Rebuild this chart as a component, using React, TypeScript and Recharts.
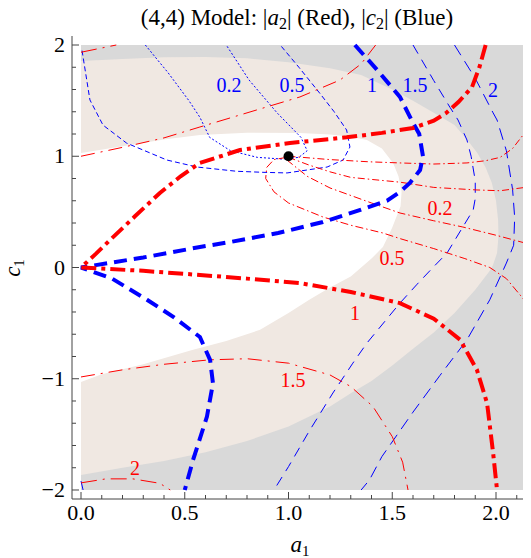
import React from 'react';
import { ComposedChart, XAxis, YAxis, Scatter, ReferenceDot } from 'recharts';

const RED = '#ff0000';
const BLUE = '#0000ff';
const FRAME = '#444444';
const FONT = '"Liberation Serif", "Times New Roman", serif';

const xTicks = [0, 0.1, 0.2, 0.3, 0.4, 0.5, 0.6, 0.7, 0.8, 0.9, 1, 1.1, 1.2, 1.3, 1.4, 1.5, 1.6, 1.7, 1.8, 1.9, 2, 2.1];
const yTicks = [-2, -1.8, -1.6, -1.4, -1.2, -1, -0.8, -0.6, -0.4, -0.2, 0, 0.2, 0.4, 0.6, 0.8, 1, 1.2, 1.4, 1.6, 1.8, 2];

// shaded regions (outlines in a1, c1)
const grayRegion = [[0, -2], [2.14, -2], [2.14, 2], [0, 2]];
const beigeRegion = [
  [0, 1.856], [0.2, 1.875], [0.4, 1.89], [0.6, 1.893], [0.8, 1.88], [1.0, 1.845], [1.2, 1.79], [1.35, 1.73],
  [1.5, 1.6], [1.6, 1.5], [1.7, 1.39], [1.8, 1.28], [1.86, 1.15], [1.91, 1.03], [1.95, 0.9], [1.98, 0.76],
  [2.0, 0.6], [2.01, 0.43], [2.012, 0.28], [2.005, 0.13], [1.985, 0.02], [1.97, -0.03], [1.9, -0.2],
  [1.8, -0.41], [1.7, -0.585], [1.6, -0.73], [1.5, -0.88], [1.4, -1.02], [1.3, -1.13], [1.2, -1.25],
  [1.0, -1.43], [0.8, -1.56], [0.6, -1.66], [0.4, -1.74], [0.2, -1.8], [0, -1.865],
];
const whiteRegion = [
  [0, 1.03], [0.2, 1.09], [0.4, 1.15], [0.573, 1.19], [0.8, 1.212], [1.055, 1.21], [1.2, 1.195], [1.3, 1.175],
  [1.378, 1.146], [1.45, 1.07], [1.504, 0.94], [1.53, 0.82], [1.545, 0.68], [1.54, 0.55], [1.5, 0.36],
  [1.455, 0.184], [1.4, 0.08], [1.3, -0.08], [1.2, -0.18], [1.1, -0.29], [1.0, -0.41], [0.863, -0.56],
  [0.7, -0.66], [0.54, -0.74], [0.3, -0.87], [0.1, -0.96], [0, -1.03],
];

// |a2| contours (red)
const redLevel1 = [
  [1.95, 2.0], [1.92, 1.8], [1.884, 1.62], [1.82, 1.49], [1.76, 1.389], [1.7, 1.32], [1.6, 1.254], [1.45, 1.21],
  [1.28, 1.17], [1.007, 1.119], [0.766, 1.056], [0.573, 0.94], [0.48, 0.82], [0.38, 0.67], [0.26, 0.46],
  [0.14, 0.247], [0.07, 0.12], [0, 0], [0.3, -0.03], [0.573, -0.067], [0.8, -0.1], [1.055, -0.14], [1.3, -0.22],
  [1.537, -0.32], [1.7, -0.46], [1.827, -0.65], [1.908, -0.92], [1.957, -1.22], [1.986, -1.667], [2.005, -2.0],
];
const redLevel15Upper = [[0, 1.0], [0.2, 1.08], [0.4, 1.165], [0.573, 1.263], [0.8, 1.39], [1.055, 1.533], [1.248, 1.685], [1.35, 1.83], [1.42, 2.0]];
const redLevel15Lower = [
  [0, -0.984], [0.2, -0.92], [0.4, -0.87], [0.62, -0.83], [0.8, -0.82], [1.0, -0.86], [1.2, -0.966], [1.3, -1.07],
  [1.407, -1.25], [1.5, -1.52], [1.55, -1.75], [1.576, -2.0],
];
const redLevel2Upper = [[0, 1.935], [0.17, 2.0]];
const redLevel2Lower = [[0, -1.936], [0.12, -1.9], [0.25, -1.9], [0.38, -1.94], [0.43, -2.0]];
const redNearA = [[1.0, 1.0], [1.2, 0.97], [1.39, 0.95], [1.537, 0.94], [1.7, 0.93], [1.86, 0.94], [1.95, 0.96], [2.02, 0.99], [2.08, 1.07], [2.13, 1.19]];
const redNearB = [[1.0, 0.99], [1.1, 0.92], [1.2, 0.86], [1.3, 0.81], [1.537, 0.767], [1.7, 0.72], [1.908, 0.697], [2.02, 0.69], [2.14, 0.72]];
const redNearC = [[0.99, 0.97], [1.09, 0.82], [1.2, 0.715], [1.4, 0.58], [1.537, 0.49], [1.7, 0.42], [1.84, 0.364], [2.0, 0.29], [2.14, 0.22]];
const redNearD = [
  [0.99, 0.99], [0.93, 0.97], [0.895, 0.9], [0.89, 0.8], [0.93, 0.68], [1.0, 0.58], [1.166, 0.454], [1.3, 0.38],
  [1.455, 0.31], [1.537, 0.26], [1.7, 0.17], [1.85, 0.08], [1.97, 0.0], [2.05, -0.1], [2.14, -0.3],
];

// |c2| contours (blue)
const blueLevel1 = [
  [1.32, 2.0], [1.43, 1.77], [1.537, 1.533], [1.6, 1.3], [1.63, 1.2], [1.648, 1.0], [1.634, 0.876], [1.585, 0.76],
  [1.537, 0.68], [1.475, 0.6], [1.35, 0.52], [1.166, 0.409], [0.95, 0.31], [0.718, 0.229], [0.573, 0.184],
  [0.3, 0.09], [0, 0], [0.15, -0.1], [0.318, -0.29], [0.45, -0.45], [0.573, -0.625], [0.622, -0.83],
  [0.636, -1.04], [0.607, -1.34], [0.54, -1.73], [0.5, -2.0],
];
const blueLevel15 = [
  [1.6, 2.0], [1.7, 1.68], [1.778, 1.44], [1.817, 1.326], [1.86, 1.146], [1.88, 1.0], [1.9, 0.78], [1.9, 0.62],
  [1.89, 0.517], [1.84, 0.364], [1.764, 0.13], [1.696, 0.0], [1.62, -0.15], [1.537, -0.32], [1.378, -0.679],
  [1.31, -0.86], [1.214, -1.128], [1.1, -1.47], [1.0, -1.79], [0.93, -2.0],
];
const blueLevel2 = [
  [1.8, 2.0], [1.9, 1.7], [1.986, 1.39], [2.005, 1.326], [2.05, 1.05], [2.08, 0.7], [2.09, 0.45], [2.085, 0.2],
  [2.05, 0.04], [1.97, -0.29], [1.86, -0.65], [1.73, -0.97], [1.6, -1.3], [1.45, -1.7], [1.39, -1.91], [1.35, -2.0],
];
const blueLevel05 = [
  [0.005, 1.95], [0.043, 1.506], [0.106, 1.28], [0.22, 1.118], [0.414, 0.966], [0.56, 0.903], [0.75, 0.865],
  [0.887, 0.855], [0.993, 0.85], [1.186, 0.903], [1.263, 0.966], [1.296, 1.083], [1.28, 1.236], [1.22, 1.4],
  [1.15, 1.568], [1.05, 1.8], [0.96, 2.0],
];
const blueLevel02 = [
  [0.31, 2.0], [0.42, 1.75], [0.52, 1.5], [0.573, 1.35], [0.62, 1.17], [0.72, 1.05], [0.85, 0.99], [0.97, 0.975],
  [1.05, 0.99], [1.09, 1.05], [1.06, 1.17], [0.945, 1.39], [0.81, 1.685], [0.7, 2.0],
];
const blueCorner = [[0, -1.92], [0.01, -2.0]];

// contour labels
const blueLabelText = ['0.2', '0.5', '1', '1.5', '2'];
const blueLabelPos = [[0.713, 1.64], [1.017, 1.64], [1.402, 1.64], [1.61, 1.64], [1.986, 1.596]];
const redLabelText = ['0.2', '0.5', '1', '1.5', '2'];
const redLabelPos = [[1.73, 0.535], [1.499, 0.085], [1.32, -0.41], [1.022, -1.011], [0.26, -1.8]];

const toPts = (a: number[][]) => a.map(([x, y]) => ({ x, y }));
const toLabels = (pos: number[][], text: string[]) => pos.map(([x, y], i) => ({ x, y, text: text[i] }));

const regions = [
  { data: grayRegion, fill: '#d9d9d9' },
  { data: beigeRegion, fill: '#f0e8e2' },
  { data: whiteRegion, fill: '#ffffff' },
];

const contours = [
  { data: blueLevel02, color: BLUE, width: 1, dash: '2 2' },
  { data: blueLevel05, color: BLUE, width: 1, dash: '5 3' },
  { data: blueLevel15, color: BLUE, width: 1, dash: '10 7' },
  { data: blueLevel2, color: BLUE, width: 1, dash: '12 7' },
  { data: blueCorner, color: BLUE, width: 1, dash: '12 7' },
  { data: redNearA, color: RED, width: 1, dash: '7 3 1.5 3' },
  { data: redNearB, color: RED, width: 1, dash: '7 3 1.5 3' },
  { data: redNearC, color: RED, width: 1, dash: '8 3 1.5 3' },
  { data: redNearD, color: RED, width: 1, dash: '8 3 1.5 3' },
  { data: redLevel15Upper, color: RED, width: 1, dash: '14 6 2 6' },
  { data: redLevel15Lower, color: RED, width: 1, dash: '14 6 2 6' },
  { data: redLevel2Upper, color: RED, width: 1, dash: '16 6 2 6' },
  { data: redLevel2Lower, color: RED, width: 1, dash: '16 6 2 6' },
  { data: blueLevel1, color: BLUE, width: 4, dash: '13 7' },
  { data: redLevel1, color: RED, width: 4, dash: '15 5 4 5' },
];

const noDot = () => <g />;

const labelShape = (color: string) => (p: any) => (
  <text x={p.cx} y={p.cy} fill={color} fontSize={20} fontFamily={FONT} textAnchor="middle" dominantBaseline="central">
    {p.payload.text}
  </text>
);

const isMajorX = (v: number) => Math.abs(v * 2 - Math.round(v * 2)) < 1e-6;
const isMajorY = (v: number) => Math.abs(v - Math.round(v)) < 1e-6;

const BottomTick = (props: any) => {
  const { x, y, payload } = props;
  const major = isMajorX(payload.value);
  return (
    <g>
      <line x1={x} x2={x} y1={y} y2={y - (major ? 7 : 4)} stroke={FRAME} />
      {major && (
        <text x={x} y={y + 21} textAnchor="middle" fontSize={22} fontFamily={FONT} fill="#000">
          {payload.value.toFixed(1)}
        </text>
      )}
    </g>
  );
};

const TopTick = (props: any) => {
  const { x, y, payload } = props;
  const major = isMajorX(payload.value);
  return <line x1={x} x2={x} y1={y} y2={y + (major ? 7 : 4)} stroke={FRAME} />;
};

const LeftTick = (props: any) => {
  const { x, y, payload } = props;
  const major = isMajorY(payload.value);
  const v = Math.round(payload.value);
  return (
    <g>
      <line x1={x} x2={x + (major ? 7 : 4)} y1={y} y2={y} stroke={FRAME} />
      {major && (
        <text x={x - 7} y={y + 7} textAnchor="end" fontSize={22} fontFamily={FONT} fill="#000">
          {v < 0 ? `\u2212${-v}` : `${v}`}
        </text>
      )}
    </g>
  );
};

const RightTick = (props: any) => {
  const { x, y, payload } = props;
  const major = isMajorY(payload.value);
  return <line x1={x} x2={x - (major ? 7 : 4)} y1={y} y2={y} stroke={FRAME} />;
};

const X_DOMAIN: [number, number] = [-0.0434, 2.159];
const Y_DOMAIN: [number, number] = [-2.081, 2.081];

export default function App() {
  return (
    <div style={{ position: 'relative', width: 523, height: 550 }}>
      <ComposedChart width={523} height={550} margin={{ top: 28, right: 2, bottom: 0, left: 0 }}>
        <XAxis
          type="number"
          dataKey="x"
          domain={X_DOMAIN}
          allowDataOverflow
          ticks={xTicks}
          interval={0}
          height={59}
          tickSize={0}
          tickMargin={0}
          tickLine={false}
          axisLine={{ stroke: FRAME }}
          tick={<BottomTick />}
        />
        <XAxis
          xAxisId="top"
          orientation="top"
          type="number"
          dataKey="x"
          domain={X_DOMAIN}
          allowDataOverflow
          ticks={xTicks}
          interval={0}
          height={0}
          tickSize={0}
          tickMargin={0}
          tickLine={false}
          axisLine={{ stroke: FRAME }}
          tick={<TopTick />}
        />
        <YAxis
          type="number"
          dataKey="y"
          domain={Y_DOMAIN}
          allowDataOverflow
          ticks={yTicks}
          interval={0}
          width={64}
          tickSize={0}
          tickMargin={0}
          tickLine={false}
          axisLine={{ stroke: FRAME }}
          tick={<LeftTick />}
        />
        <YAxis
          yAxisId="right"
          orientation="right"
          type="number"
          dataKey="y"
          domain={Y_DOMAIN}
          allowDataOverflow
          ticks={yTicks}
          interval={0}
          width={0}
          tickSize={0}
          tickMargin={0}
          tickLine={false}
          axisLine={{ stroke: FRAME }}
          tick={<RightTick />}
        />

        {regions.map((r, i) => (
          <Scatter
            key={`region-${i}`}
            data={toPts(r.data)}
            fill={r.fill}
            line={{ fill: r.fill, stroke: 'none' }}
            shape={noDot}
            isAnimationActive={false}
          />
        ))}

        {contours.map((c, i) => (
          <Scatter
            key={`contour-${i}`}
            data={toPts(c.data)}
            fill={c.color}
            line={{ stroke: c.color, strokeWidth: c.width, strokeDasharray: c.dash, fill: 'none' }}
            shape={noDot}
            isAnimationActive={false}
          />
        ))}

        <Scatter data={toLabels(blueLabelPos, blueLabelText)} shape={labelShape(BLUE)} isAnimationActive={false} />
        <Scatter data={toLabels(redLabelPos, redLabelText)} shape={labelShape(RED)} isAnimationActive={false} />

        <ReferenceDot x={1} y={1} r={5} fill="#000" stroke="none" />
      </ComposedChart>

      <svg
        width={531}
        height={558}
        style={{ position: 'absolute', left: -8, top: -8, pointerEvents: 'none' }}
      >
        <text x={297} y={25} textAnchor="middle" fontSize={23} fontFamily={FONT} fill="#000">
          (4,4) Model: |<tspan fontStyle="italic">a</tspan>
          <tspan fontSize={16} dy={4}>2</tspan>
          <tspan dy={-4}>| (Red), |</tspan>
          <tspan fontStyle="italic">c</tspan>
          <tspan fontSize={16} dy={4}>2</tspan>
          <tspan dy={-4}>| (Blue)</tspan>
        </text>
        <text x={300} y={552} textAnchor="middle" fontSize={23} fontFamily={FONT} fill="#000">
          <tspan fontStyle="italic">a</tspan>
          <tspan fontSize={15} dy={4}>1</tspan>
        </text>
        <text
          x={20}
          y={268}
          textAnchor="middle"
          fontSize={23}
          fontFamily={FONT}
          fill="#000"
          transform="rotate(-90 20 268)"
        >
          <tspan fontStyle="italic">c</tspan>
          <tspan fontSize={15} dy={4}>1</tspan>
        </text>
      </svg>
    </div>
  );
}
